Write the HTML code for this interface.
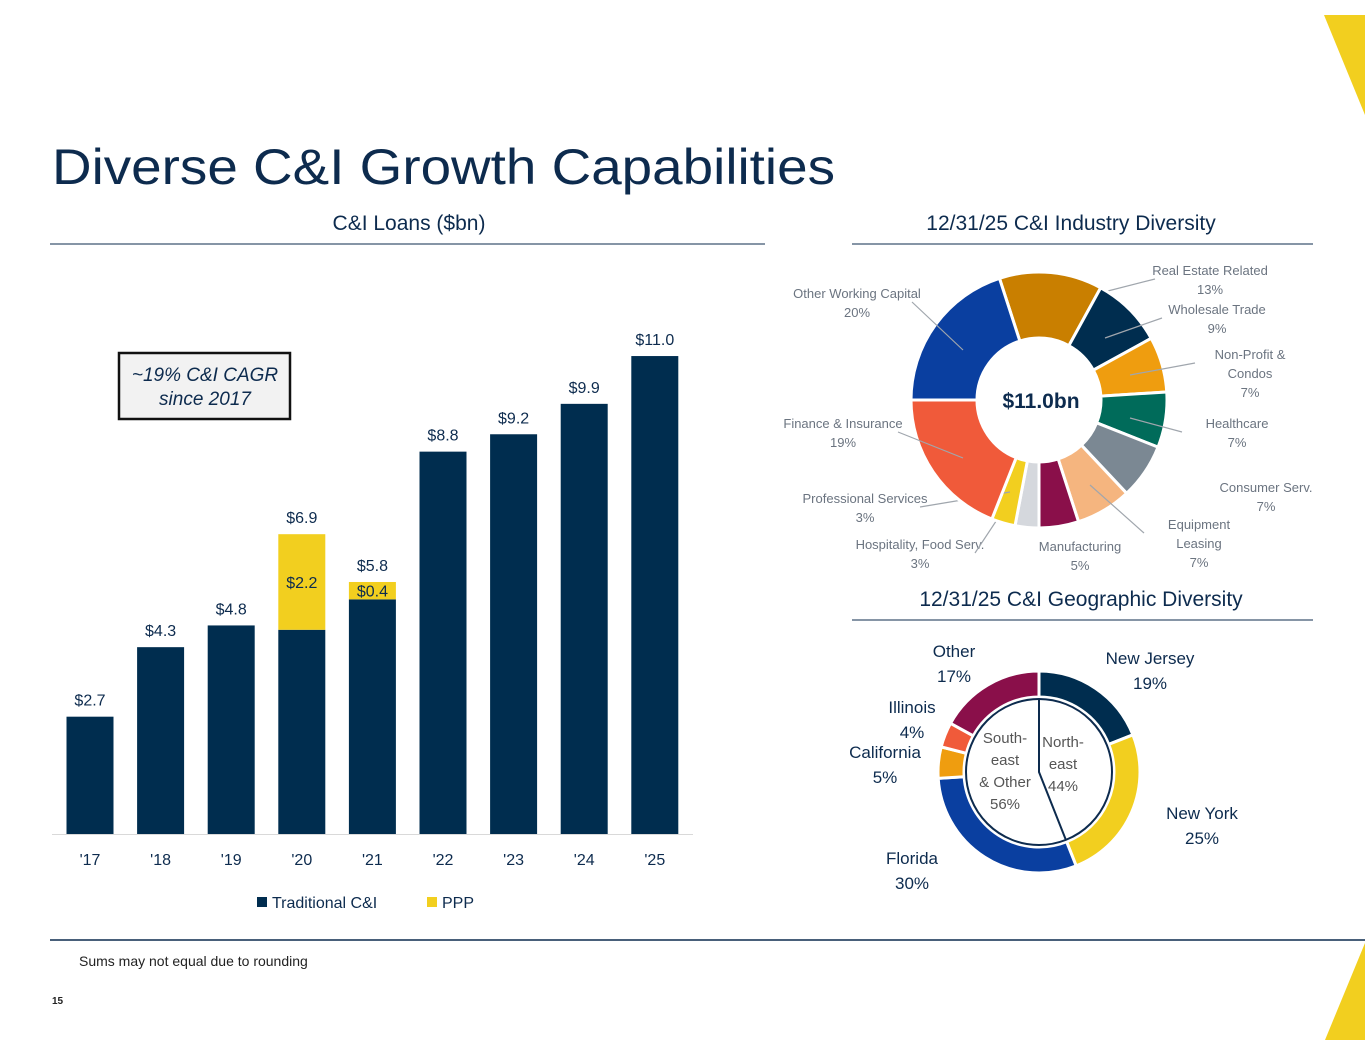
<!DOCTYPE html>
<html><head><meta charset="utf-8">
<style>
body{margin:0;background:#fff;font-family:"Liberation Sans",sans-serif;}
#root{position:relative;width:1365px;height:1055px;overflow:hidden;}
svg text{font-family:"Liberation Sans",sans-serif;}
</style></head>
<body>
<div id="root">
<svg id="s" width="1365" height="1055">
<polygon points="1324,15 1365,15 1365,115" fill="#f2cf1f"/>
<polygon points="1365,943 1365,1040 1325,1040" fill="#f2cf1f"/>
<text x="52" y="184" font-size="50" fill="#0d2b4e" textLength="783" lengthAdjust="spacingAndGlyphs">Diverse C&amp;I Growth Capabilities</text>
<text x="409" y="230" font-size="21" fill="#0d2b4e" text-anchor="middle">C&amp;I Loans ($bn)</text>
<line x1="50" y1="244" x2="765" y2="244" stroke="#0d2b4e" stroke-width="1"/>
<text x="1071" y="230" font-size="21" fill="#0d2b4e" text-anchor="middle">12/31/25 C&amp;I Industry Diversity</text>
<line x1="852" y1="244" x2="1313" y2="244" stroke="#0d2b4e" stroke-width="1"/>
<text x="1081" y="606" font-size="21" fill="#0d2b4e" text-anchor="middle">12/31/25 C&amp;I Geographic Diversity</text>
<line x1="852" y1="620" x2="1313" y2="620" stroke="#0d2b4e" stroke-width="1"/>
<rect x="119" y="353" width="171" height="66" fill="#f2f2f2" stroke="#111" stroke-width="2.5"/>
<text x="205" y="381" font-size="19" font-style="italic" fill="#0d2b4e" text-anchor="middle">~19% C&amp;I CAGR</text>
<text x="205" y="405" font-size="19" font-style="italic" fill="#0d2b4e" text-anchor="middle">since 2017</text>
<g id="bars"></g>
<rect x="257" y="897" width="10" height="10" fill="#002d4f"/>
<text x="272" y="908" font-size="16" fill="#0d2b4e">Traditional C&amp;I</text>
<rect x="427" y="897" width="10" height="10" fill="#f2cf1f"/>
<text x="442" y="908" font-size="16" fill="#0d2b4e">PPP</text>
<line x1="50" y1="940" x2="1365" y2="940" stroke="#0d2b4e" stroke-width="1.5"/>
<text x="79" y="966" font-size="14" fill="#222">Sums may not equal due to rounding</text>
<text x="52" y="1004" font-size="10" font-weight="bold" fill="#222">15</text>
<g id="ind"></g>
<g id="geo"></g>
</svg>
</div>
<script>
const years=["'17","'18","'19","'20","'21","'22","'23","'24","'25"];
const traditional=[2.7,4.3,4.8,4.7,5.4,8.8,9.2,9.9,11.0];
const ppp=[0,0,0,2.2,0.4,0,0,0,0];
const totalLabels=["$2.7","$4.3","$4.8","$6.9","$5.8","$8.8","$9.2","$9.9","$11.0"];
const pppLabels=["","","","$2.2","$0.4","","","",""];

const indNames=[["Real Estate Related","13%"],["Wholesale Trade","9%"],["Non-Profit &","Condos","7%"],["Healthcare","7%"],["Consumer Serv.","7%"],["Equipment","Leasing","7%"],["Manufacturing","5%"],["Hospitality, Food Serv.","3%"],["Professional Services","3%"],["Finance & Insurance","19%"],["Other Working Capital","20%"]];
const indValues=[13,9,7,7,7,7,5,3,3,19,20];
const geoNames=[["New Jersey","19%"],["New York","25%"],["Florida","30%"],["California","5%"],["Illinois","4%"],["Other","17%"]];
const geoValues=[19,25,30,5,4,17];
const northeastShare=44;

const NS="http://www.w3.org/2000/svg";
function mk(p,t,a){const e=document.createElementNS(NS,t);for(const k in a)e.setAttribute(k,a[k]);p.appendChild(e);return e;}
function txt(p,x,y,s,size,fill,anchor){const e=mk(p,'text',{x:x,y:y,'font-size':size,fill:fill,'text-anchor':anchor||'middle'});e.textContent=s;return e;}

const base=834, scale=43.45, x0=90, step=70.6, bw=47;
const yv=v=>base-v*scale, xc=i=>x0+i*step;
const bars=document.getElementById('bars');
const ax=mk(bars,'line',{x1:52,y1:base+0.5,x2:693,y2:base+0.5,stroke:'#d9d9d9','stroke-width':1});


years.forEach((y,i)=>{
  const r=mk(bars,'rect',{x:xc(i)-bw/2,y:yv(traditional[i]),width:bw,height:traditional[i]*scale,fill:'#002d4f'});
  
  
  if(ppp[i]>0){
    const p=mk(bars,'rect',{x:xc(i)-bw/2,y:yv(traditional[i]+ppp[i]),width:bw,height:ppp[i]*scale,fill:'#f2cf1f'});
    
    
    const pl=txt(bars,xc(i),yv(traditional[i]+ppp[i]/2)+6,pppLabels[i],16,'#0d2b4e');
    
    
  }
  const tl=txt(bars,xc(i),yv(traditional[i]+ppp[i])-11,totalLabels[i],16,'#0d2b4e');
  
  
  const xl=txt(bars,xc(i),865,y,16,'#0d2b4e');
  
  
});

function arc(cx,cy,r1,r2,a0,a1){
  const p=(r,a)=>[cx+r*Math.sin(a*Math.PI/180),cy-r*Math.cos(a*Math.PI/180)];
  const lg=(a1-a0)>180?1:0;
  const [x1,y1]=p(r2,a0),[x2,y2]=p(r2,a1),[x3,y3]=p(r1,a1),[x4,y4]=p(r1,a0);
  return `M${x1},${y1}A${r2},${r2} 0 ${lg} 1 ${x2},${y2}L${x3},${y3}A${r1},${r1} 0 ${lg} 0 ${x4},${y4}Z`;
}
const indColors=['#c97f00','#002d4f','#ef9d0f','#006b5a','#7b8893','#f5b57f','#8a0f4a','#d5d8dd','#f2cf1f','#f05a3a','#0a3fa0'];
const labelPos=[[1210,275,'middle',1100,293],[1217,314,'middle',1105,338],[1250,359,'middle',1130,375],[1237,428,'middle',1130,418],[1266,492,'middle',null],[1199,529,'middle',1090,485],[1080,551,'middle',null],[920,549,'middle',1020,485],[865,503,'middle',1010,492],[843,428,'middle',963,458],[857,298,'middle',963,350]];
const ind=document.getElementById('ind');
let a=-18;const tot=indValues.reduce((s,v)=>s+v,0);
indValues.forEach((v,i)=>{
  const a1=a+v/tot*360;
  const s=mk(ind,'path',{d:arc(1039,400,62,128,a,a1),fill:indColors[i],stroke:'#fff','stroke-width':3});
  
  
  a=a1;
  const [lx,ly,an,px,py]=labelPos[i];
  const lines=indNames[i];
  lines.forEach((t,j)=>{const e=txt(ind,lx,ly+j*19,t,13,'#6b7480',an);
    
    });
  if(px!==null){const l=mk(ind,'line',{x1:lx+(lx>1039?-55:55),y1:ly+4,x2:px,y2:py,stroke:'#a0a6ad','stroke-width':1.2});
    
    }
});
const c=txt(ind,1041,408,'$11.0bn',21,'#0d2b4e');c.setAttribute('font-weight','bold');



const geoColors=['#002d4f','#f2cf1f','#0a3fa0','#ef9d0f','#f05a3a','#8a0f4a'];
const geoLab=[[1150,664],[1202,819],[912,864],[885,758],[912,713],[954,657]];
const geo=document.getElementById('geo');
let b=0;const gt=geoValues.reduce((s,v)=>s+v,0);
geoValues.forEach((v,i)=>{
  const b1=b+v/gt*360;
  const s=mk(geo,'path',{d:arc(1039,772,75,101,b,b1),fill:geoColors[i],stroke:'#fff','stroke-width':3});
  
  
  b=b1;
  geoNames[i].forEach((t,j)=>{const e=txt(geo,geoLab[i][0],geoLab[i][1]+j*25,t,17,'#0d2b4e');
    
    });
});
const ic=mk(geo,'circle',{cx:1039,cy:772,r:73,fill:'#fff',stroke:'#0d2b4e','stroke-width':2});


const ang=northeastShare/100*360*Math.PI/180;
const dv=mk(geo,'polyline',{points:`1039,699 1039,772 ${1039+73*Math.sin(ang)},${772-73*Math.cos(ang)}`,fill:'none',stroke:'#0d2b4e','stroke-width':2});


[['North-',1063,747],['east',1063,769],['44%',1063,791]].forEach(t=>{const e=txt(geo,t[1],t[2],t[0],15,'#555');
  
  });
[['South-',1005,743],['east',1005,765],['& Other',1005,787],['56%',1005,809]].forEach(t=>{const e=txt(geo,t[1],t[2],t[0],15,'#555');
  
  });
</script>
</body></html>
